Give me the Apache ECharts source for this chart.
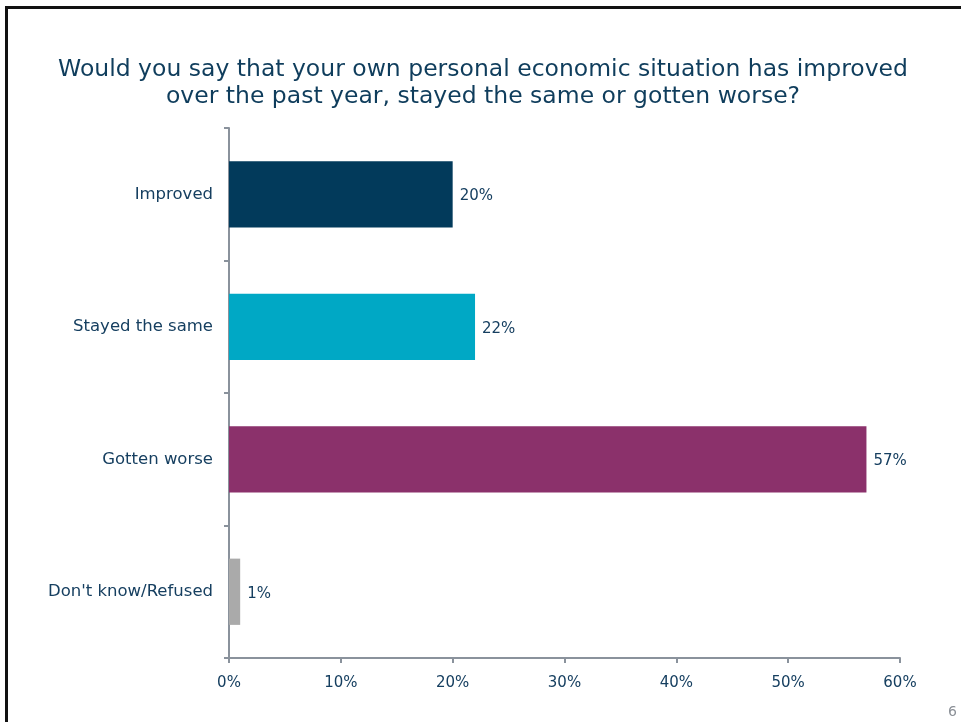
<!DOCTYPE html>
<html>
<head>
<meta charset="utf-8">
<script src="https://cdn.jsdelivr.net/npm/echarts@6/dist/echarts.min.js"></script>
<style>
  html, body { margin: 0; padding: 0; background: #fff; }
  #frame {
    position: absolute; left: 5px; top: 6px; width: 1000px; height: 800px;
    border-top: 3px solid #111; border-left: 3px solid #111; box-sizing: border-box;
  }
  #chart { position: absolute; left: 0; top: 0; width: 961px; height: 722px; }
</style>
</head>
<body>
<div id="frame"></div>
<div id="chart"></div>
<script>
// Survey responses, top to bottom
const categories = ['Improved', 'Stayed the same', 'Gotten worse', "Don't know/Refused"];
const shares = [20, 22, 57, 1];
const barColors = ['#023a5b', '#00a8c5', '#8b316b', '#aaaaaa'];
const xTicks = [0, 10, 20, 30, 40, 50, 60];

const textColor = '#163f60';
const axisColor = '#8a929c';
const font = 'DejaVu Sans';

const chart = echarts.init(document.getElementById('chart'));
chart.setOption({
  animation: false,
  title: {
    text: 'Would you say that your own personal economic situation has improved\nover the past year, stayed the same or gotten worse?',
    left: 478,
    textAlign: 'center',
    top: 51,
    textStyle: { fontFamily: font, fontSize: 23.5, fontWeight: 'normal', color: '#0f3d5c', lineHeight: 27 }
  },
  graphic: [{
    type: 'text', right: 4, bottom: 3,
    style: { text: '6', fontFamily: font, fontSize: 14, fill: '#8a8f96' }
  }],
  grid: { left: 229, right: 61, top: 128, bottom: 64 },
  xAxis: {
    type: 'value', min: xTicks[0], max: xTicks[xTicks.length - 1], interval: 10,
    axisLine: { show: true, lineStyle: { color: axisColor, width: 2 } },
    axisTick: { show: true, length: 5, lineStyle: { color: axisColor, width: 2 } },
    splitLine: { show: false },
    axisLabel: { formatter: '{value}%', margin: 18, fontFamily: font, fontSize: 15, color: textColor }
  },
  yAxis: {
    type: 'category', data: categories, inverse: true,
    axisLine: { show: true, lineStyle: { color: axisColor, width: 2 } },
    axisTick: { show: true, length: 5, lineStyle: { color: axisColor, width: 2 } },
    axisLabel: { margin: 16, fontFamily: font, fontSize: 16.5, color: textColor, padding: [4, 0, 0, 0] }
  },
  series: [{
    type: 'bar',
    barCategoryGap: '50%',
    data: shares.map((v, i) => ({ value: v, itemStyle: { color: barColors[i] } })),
    label: {
      show: true, position: 'right', distance: 7, offset: [0, 2], formatter: '{c}%',
      fontFamily: font, fontSize: 15, color: textColor
    }
  }]
});
</script>
</body>
</html>
